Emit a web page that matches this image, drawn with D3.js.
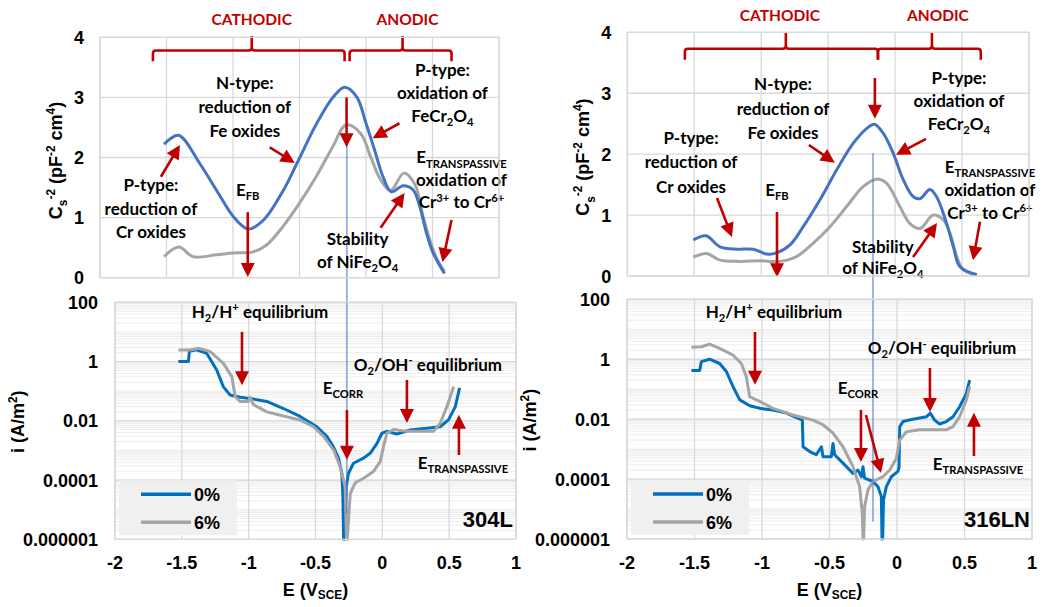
<!DOCTYPE html>
<html>
<head>
<meta charset="utf-8">
<script src="https://cdn.jsdelivr.net/npm/d3@7"></script>
<style>
  body { margin: 0; background: #fff; }
  svg text { font-family: "Liberation Sans", Arial, sans-serif; font-weight: bold; fill: #000; }
  svg text.note { font-family: Lato, "Open Sans", sans-serif; }
</style>
</head>
<body>
<svg id="chart" width="1042" height="607"></svg>
<script>
(function () {

  "use strict";

  // ---- axis ticks ----
  var eTicks = [-2, -1.5, -1, -0.5, 0, 0.5, 1];
  var eTickLabels = ["-2", "-1.5", "-1", "-0.5", "0", "0.5", "1"];
  var capTicks = [0, 1, 2, 3, 4];
  var curTicks = [1e-6, 1e-4, 1e-2, 1, 100];
  var curTickLabels = ["0.000001", "0.0001", "0.01", "1", "100"];
  var seriesNames = ["0%", "6%"];

  // ---- Mott-Schottky, [E, Cs^-2] ----
  var ms304L_0 = [[-1.518, 2.22], [-1.41, 2.37], [-1.25, 1.90], [-1.125, 1.46], [-0.995, 1.01], [-0.885, 0.81],
    [-0.77, 0.96], [-0.62, 1.46], [-0.52, 1.90], [-0.37, 2.57], [-0.245, 3.01], [-0.16, 3.17], [-0.07, 3.01],
    [0.0, 2.57], [0.065, 2.12], [0.128, 1.68], [0.19, 1.43], [0.28, 1.53], [0.355, 1.46], [0.405, 1.18],
    [0.455, 0.74], [0.505, 0.41], [0.59, 0.07]];
  var ms304L_6 = [[-1.518, 0.35], [-1.407, 0.51], [-1.3, 0.35], [-1.125, 0.38], [-1.0, 0.41], [-0.85, 0.43],
    [-0.75, 0.54], [-0.625, 0.85], [-0.5, 1.24], [-0.375, 1.68], [-0.25, 2.18], [-0.15, 2.54], [-0.04, 2.40],
    [0.035, 2.01], [0.11, 1.63], [0.185, 1.45], [0.285, 1.74], [0.37, 1.54], [0.43, 1.01], [0.48, 0.63],
    [0.53, 0.33], [0.59, 0.10]];
  var ms316LN_0 = [[-1.507, 0.59], [-1.412, 0.66], [-1.308, 0.48], [-1.183, 0.44], [-1.059, 0.44], [-0.959, 0.36],
    [-0.885, 0.38], [-0.785, 0.51], [-0.686, 0.81], [-0.561, 1.25], [-0.437, 1.74], [-0.312, 2.18], [-0.213, 2.42],
    [-0.155, 2.49], [-0.088, 2.34], [-0.013, 2.01], [0.061, 1.58], [0.136, 1.30], [0.186, 1.27], [0.26, 1.42],
    [0.31, 1.30], [0.385, 0.86], [0.435, 0.48], [0.485, 0.15], [0.61, 0.02]];
  var ms316LN_6 = [[-1.507, 0.31], [-1.408, 0.37], [-1.308, 0.26], [-1.159, 0.24], [-1.009, 0.25], [-0.86, 0.24],
    [-0.735, 0.32], [-0.611, 0.54], [-0.486, 0.81], [-0.362, 1.14], [-0.237, 1.47], [-0.138, 1.59], [-0.063, 1.52],
    [0.036, 1.14], [0.111, 0.86], [0.186, 0.78], [0.285, 1.0], [0.36, 0.92], [0.41, 0.70], [0.46, 0.32],
    [0.51, 0.10], [0.61, 0.02]];

  // ---- polarisation, [E, i (A/m2)] ----
  var pol304L_0 = [[-1.526, 1.0], [-1.451, 1.0], [-1.443, 2.2], [-1.39, 2.5], [-1.314, 1.9], [-1.239, 0.52],
    [-1.189, 0.14], [-1.139, 0.074], [-1.064, 0.062], [-0.964, 0.054], [-0.864, 0.045], [-0.74, 0.026],
    [-0.615, 0.014], [-0.49, 0.0063], [-0.415, 0.003], [-0.365, 0.0013], [-0.328, 0.00055], [-0.303, 0.00017],
    [-0.295, 0.000028], [-0.29, 0.000001], [-0.285, 0.000001], [-0.27, 0.00006], [-0.253, 0.00017],
    [-0.216, 0.00037], [-0.141, 0.00055], [-0.091, 0.0008], [-0.041, 0.0017], [-0.003, 0.0038], [0.034, 0.0044],
    [0.109, 0.0036], [0.209, 0.0049], [0.333, 0.0056], [0.433, 0.0063], [0.496, 0.011], [0.546, 0.03], [0.578, 0.13]];
  var pol304L_6 = [[-1.526, 2.45], [-1.44, 2.45], [-1.376, 2.8], [-1.289, 2.2], [-1.189, 0.87], [-1.126, 0.31],
    [-1.101, 0.066], [-1.064, 0.045], [-1.002, 0.045], [-0.989, 0.062], [-0.964, 0.035], [-0.864, 0.02],
    [-0.74, 0.0145], [-0.615, 0.0107], [-0.515, 0.0063], [-0.44, 0.003], [-0.365, 0.00105], [-0.315, 0.00028],
    [-0.278, 0.00006], [-0.268, 0.000001], [-0.262, 0.000001], [-0.253, 0.0000045], [-0.24, 0.000035],
    [-0.203, 0.000081], [-0.141, 0.000115], [-0.066, 0.000195], [-0.016, 0.00042], [0.009, 0.00135],
    [0.034, 0.0038], [0.084, 0.0051], [0.184, 0.0044], [0.333, 0.0044], [0.383, 0.0044], [0.433, 0.0083],
    [0.483, 0.03], [0.533, 0.14]];
  var pol316LN_0 = [[-1.523, 0.42], [-1.462, 0.42], [-1.449, 0.83], [-1.388, 1.0], [-1.314, 0.72], [-1.264, 0.39],
    [-1.215, 0.123], [-1.165, 0.044], [-1.091, 0.028], [-1.017, 0.023], [-0.919, 0.02], [-0.82, 0.016],
    [-0.701, 0.0093], [-0.696, 0.0012], [-0.647, 0.00083], [-0.598, 0.00065], [-0.56, 0.0012], [-0.548, 0.00056],
    [-0.486, 0.00056], [-0.474, 0.00155], [-0.462, 0.00065], [-0.4, 0.00034], [-0.326, 0.000155], [-0.289, 0.0002],
    [-0.264, 0.00012], [-0.252, 0.00026], [-0.24, 0.000107], [-0.178, 0.000083], [-0.141, 0.000056],
    [-0.116, 0.000026], [-0.111, 0.000001], [-0.106, 0.000001], [-0.1, 0.00002], [-0.079, 0.000056],
    [-0.042, 0.00012], [0.007, 0.00018], [0.015, 0.00025], [0.02, 0.0056], [0.044, 0.0083], [0.119, 0.01],
    [0.217, 0.012], [0.247, 0.0158], [0.279, 0.0093], [0.316, 0.0069], [0.365, 0.0083], [0.415, 0.012],
    [0.464, 0.026], [0.514, 0.072], [0.538, 0.2]];
  var pol316LN_6 = [[-1.523, 2.5], [-1.449, 2.6], [-1.388, 3.2], [-1.314, 2.3], [-1.215, 1.38], [-1.153, 0.72],
    [-1.116, 0.26], [-1.091, 0.056], [-1.017, 0.039], [-0.919, 0.023], [-0.77, 0.0138], [-0.622, 0.0093],
    [-0.548, 0.0065], [-0.474, 0.0034], [-0.4, 0.0012], [-0.326, 0.00026], [-0.277, 0.000056], [-0.257, 0.0000072],
    [-0.252, 0.000001], [-0.247, 0.000001], [-0.24, 0.000012], [-0.215, 0.000044], [-0.178, 0.000083],
    [-0.104, 0.00012], [-0.054, 0.0002], [-0.005, 0.00049], [0.02, 0.002], [0.069, 0.0038], [0.168, 0.0044],
    [0.365, 0.0044], [0.415, 0.0056], [0.464, 0.012], [0.514, 0.044], [0.538, 0.12]];

  // ---- annotations (data units of each plot) ----
  var topNotes304L = [
    {lines: ["N-type:", "reduction  of", "Fe oxides"], e: -0.911, v: 3.24, step: 24},
    {lines: ["P-type:", "reduction  of", "Cr oxides"], e: -1.617, v: 1.54, step: 23.5},
    {lines: ["E_{FB}"], e: -0.889, v: 1.46},
    {lines: ["P-type:", "oxidation of", "FeCr_{2}O_{4}"], e: 0.575, v: 3.46, step: 23},
    {lines: ["E_{TRANSPASSIVE}", "oxidation  of", "Cr^{3+} to Cr^{6+}"], e: 0.718, v: 2.0, step: 22.5},
    {lines: ["Stability", "of NiFe_{2}O_{4}"], e: -0.063, v: 0.64, step: 23}
  ];
  var topArrows304L = [[-0.724, 2.17, -0.536, 1.91], [-1.542, 1.68, -1.399, 2.21], [-0.889, 1.09, -0.889, 0.01],
    [-0.146, 3.0, -0.146, 2.17], [0.252, 2.57, 0.05, 2.32], [0.643, 0.96, 0.575, 0.26], [0.11, 0.83, 0.29, 1.41]];
  var botNotes304L = [
    {lines: ["H_{2}/H^{+} equilibrium"], e: -0.915, i: 47},
    {lines: ["E_{CORR}"], e: -0.295, i: 0.13},
    {lines: ["O_{2}/OH^{-} equilibrium"], e: 0.341, i: 0.76},
    {lines: ["E_{TRANSPASSIVE}"], e: 0.603, i: 0.00038}
  ];
  var botArrows304L = [[-1.05, 10, -1.05, 0.16], [-0.265, 0.023, -0.265, 0.00048],
    [0.184, 0.24, 0.184, 0.0085], [0.573, 0.0007, 0.573, 0.016]];

  var topNotes316LN = [
    {lines: ["N-type:", "reduction  of", "Fe oxides"], e: -0.837, v: 3.15, step: 24.5},
    {lines: ["P-type:", "reduction  of", "Cr oxides"], e: -1.524, v: 2.27, step: 24.5},
    {lines: ["E_{FB}"], e: -0.882, v: 1.41},
    {lines: ["P-type:", "oxidation of", "FeCr_{2}O_{4}"], e: 0.477, v: 3.25, step: 23},
    {lines: ["E_{TRANSPASSIVE}", "oxidation  of", "Cr^{3+} to Cr^{6+}"], e: 0.708, v: 1.79, step: 23},
    {lines: ["Stability", "of NiFe_{2}O_{4}"], e: -0.091, v: 0.48, step: 21}
  ];
  var topArrows316LN = [[-0.644, 2.15, -0.45, 1.86], [-1.33, 1.28, -1.218, 0.64], [-0.882, 1.05, -0.882, -0.02],
    [-0.151, 3.25, -0.151, 2.58], [0.231, 2.25, 0.007, 1.99], [0.634, 0.89, 0.582, 0.26], [0.134, 0.31, 0.313, 0.87]];
  var botNotes316LN = [
    {lines: ["H_{2}/H^{+} equilibrium"], e: -0.911, i: 38},
    {lines: ["O_{2}/OH^{-} equilibrium"], e: 0.333, i: 2.3},
    {lines: ["E_{CORR}"], e: -0.289, i: 0.11},
    {lines: ["E_{TRANSPASSIVE}"], e: 0.6, i: 0.00032}
  ];
  var botArrows316LN = [[-1.052, 8.1, -1.052, 0.14], [0.244, 0.51, 0.244, 0.0174], [-0.267, 0.0204, -0.267, 0.00037],
    [-0.23, 0.0138, -0.119, 0.00016], [0.57, 0.00059, 0.57, 0.0162]];

  var brackets304L = {cath: [-1.602, -0.161, -0.859], anod: [-0.123, 0.643, 0.275], vH: 3.78, vEnd: 3.6, vTop: 4.02,
    labels: [["CATHODIC", -0.859, 4.29], ["ANODIC", 0.312, 4.29]]};
  var brackets316LN = {cath: [-1.57, -0.128, -0.816], anod: [-0.128, 0.64, 0.275], vH: 3.73, vEnd: 3.55, vTop: 4.0,
    labels: [["CATHODIC", -0.86, 4.27], ["ANODIC", 0.32, 4.27]]};

  // E_corr guide line: [E, Cs^-2 at top end, i at bottom end]
  var guide304L = [-0.265, 2.24, 7.6e-6];
  var guide316LN = [-0.178, 2.02, 3.8e-6];
  // sample tag anchor: [E, i]
  var tag304L = [0.977, 2.6e-6];
  var tag316LN = [0.985, 2.5e-6];

  var RED = "#c00000";
  var GRID = "#d9d9d9";
  var NOTE_SIZE = 17;

  var panels = [
    {name: "304L", ms: [ms304L_0, ms304L_6], pol: [pol304L_0, pol304L_6],
      topNotes: topNotes304L, topArrows: topArrows304L, botNotes: botNotes304L, botArrows: botArrows304L,
      brackets: brackets304L, guide: guide304L, tag: tag304L,
      top: {x0: 100, x1: 499, y0: 37.3, y1: 277.7}, bot: {x0: 115, x1: 516, y0: 302.3, y1: 539.3}},
    {name: "316LN", ms: [ms316LN_0, ms316LN_6], pol: [pol316LN_0, pol316LN_6],
      topNotes: topNotes316LN, topArrows: topArrows316LN, botNotes: botNotes316LN, botArrows: botArrows316LN,
      brackets: brackets316LN, guide: guide316LN, tag: tag316LN,
      top: {x0: 627.3, x1: 1029, y0: 32.3, y1: 276}, bot: {x0: 627, x1: 1032, y0: 299.3, y1: 539}}
  ];

  var svg = d3.select("#chart");

  panels.forEach(function (p) { drawPanel(p); });

  function drawPanel(p) {
    var g = svg.append("g").attr("class", "panel-" + p.name);
    var t = p.top, b = p.bot;

    var xT = d3.scaleLinear().domain([-2, 1]).range([t.x0, t.x1]);
    var yT = d3.scaleLinear().domain([0, 4]).range([t.y1, t.y0]);
    var xB = d3.scaleLinear().domain([-2, 1]).range([b.x0, b.x1]);
    var yB = d3.scaleLog().domain([1e-6, 100]).range([b.y1, b.y0]).clamp(true);

    // --- top plot: grid ---
    var gt = g.append("g");
    gt.selectAll(".vg").data(eTicks).enter().append("line")
      .attr("x1", function (d) { return xT(d); }).attr("x2", function (d) { return xT(d); })
      .attr("y1", t.y0).attr("y2", t.y1).attr("stroke", GRID).attr("stroke-width", 1.3);
    gt.selectAll(".hg").data(capTicks).enter().append("line")
      .attr("x1", t.x0).attr("x2", t.x1)
      .attr("y1", function (d) { return yT(d); }).attr("y2", function (d) { return yT(d); })
      .attr("stroke", GRID).attr("stroke-width", 1.3);
    gt.selectAll(".yl").data(capTicks).enter().append("text")
      .attr("x", t.x0 - 16).attr("y", function (d) { return yT(d) + 6.5; })
      .attr("text-anchor", "end").attr("font-size", 18).text(function (d) { return d; });

    // --- bottom plot: grid ---
    var gb = g.append("g");
    var minor = [];
    for (var n = -6; n < 2; n++) {
      for (var k = 2; k <= 10; k++) minor.push(k * Math.pow(10, n));
    }
    gb.selectAll(".mg").data(minor).enter().append("line")
      .attr("x1", b.x0).attr("x2", b.x1)
      .attr("y1", function (d) { return yB(d); }).attr("y2", function (d) { return yB(d); })
      .attr("stroke", "#ececec").attr("stroke-width", 1);
    gb.selectAll(".vg").data(eTicks).enter().append("line")
      .attr("x1", function (d) { return xB(d); }).attr("x2", function (d) { return xB(d); })
      .attr("y1", b.y0).attr("y2", b.y1).attr("stroke", GRID).attr("stroke-width", 1.3);
    gb.selectAll(".hg").data(curTicks).enter().append("line")
      .attr("x1", b.x0).attr("x2", b.x1)
      .attr("y1", function (d) { return yB(d); }).attr("y2", function (d) { return yB(d); })
      .attr("stroke", GRID).attr("stroke-width", 1.3);
    gb.selectAll(".yl").data(curTicks).enter().append("text")
      .attr("x", b.x0 - 17).attr("y", function (d) { return yB(d) + 6.5; })
      .attr("text-anchor", "end").attr("font-size", 18)
      .text(function (d, i) { return curTickLabels[i]; });
    gb.selectAll(".xl").data(eTicks).enter().append("text")
      .attr("x", function (d) { return xB(d); }).attr("y", b.y1 + 30)
      .attr("text-anchor", "middle").attr("font-size", 18)
      .text(function (d, i) { return eTickLabels[i]; });

    // axis titles
    var yc = (t.y0 + t.y1) / 2 + 3;
    rich(g.append("text").attr("text-anchor", "middle").attr("font-size", 18)
      .attr("transform", "translate(" + (t.x0 - 38) + "," + yc + ") rotate(-90)"), "C_{s}^{-2} (pF^{-2} cm^{4})", 18);
    var ybc = (b.y0 + b.y1) / 2 + 1;
    rich(g.append("text").attr("text-anchor", "middle").attr("font-size", 18)
      .attr("transform", "translate(" + (b.x0 - 91) + "," + ybc + ") rotate(-90)"), "i (A/m^{2})", 18);
    rich(g.append("text").attr("text-anchor", "middle").attr("font-size", 18)
      .attr("x", (b.x0 + b.x1) / 2).attr("y", b.y1 + 57), "E (V_{SCE})", 18, 0.14);

    // --- curves ---
    var colorsTop = ["#4472c4", "#a5a5a5"];
    var colorsBot = ["#0070c0", "#a5a5a5"];
    var lineT = d3.line().curve(d3.curveCatmullRom.alpha(0.5))
      .x(function (d) { return xT(d[0]); }).y(function (d) { return yT(d[1]); });
    var lineB = d3.line()
      .x(function (d) { return xB(d[0]); }).y(function (d) { return yB(d[1]); });

    [1, 0].forEach(function (s) {
      gt.append("path").attr("d", lineT(p.ms[s])).attr("fill", "none")
        .attr("stroke", colorsTop[s]).attr("stroke-width", 3).attr("stroke-linejoin", "round");
    });
    [0, 1].forEach(function (s) {
      gb.append("path").attr("d", lineB(p.pol[s])).attr("fill", "none")
        .attr("stroke", colorsBot[s]).attr("stroke-width", 3).attr("stroke-linejoin", "round");
    });

    // legend
    var lg = gb.append("g");
    lg.append("rect").attr("x", b.x0 + 4).attr("y", b.y1 - 59).attr("width", 118).attr("height", 55)
      .attr("fill", "#f0f0f0");
    seriesNames.forEach(function (name, s) {
      var ly = b.y1 - 45 + s * 28;
      lg.append("line").attr("x1", b.x0 + 26).attr("x2", b.x0 + 76).attr("y1", ly).attr("y2", ly)
        .attr("stroke", colorsBot[s]).attr("stroke-width", 3.5);
      lg.append("text").attr("x", b.x0 + 79).attr("y", ly + 7).attr("font-size", 18).text(name);
    });

    // sample tag
    g.append("text").attr("x", xB(p.tag[0])).attr("y", yB(p.tag[1]))
      .attr("text-anchor", "end").attr("font-size", 22).text(p.name);

    // E_corr guide line across both plots
    g.append("line").attr("x1", xB(p.guide[0])).attr("x2", xB(p.guide[0]))
      .attr("y1", yT(p.guide[1])).attr("y2", yB(p.guide[2]))
      .attr("stroke", "#4472c4").attr("stroke-width", 1);

    // --- annotations ---
    var ga = g.append("g");
    p.topNotes.forEach(function (nt) {
      nt.lines.forEach(function (ln, i) {
        rich(ga.append("text").attr("class", "note").attr("text-anchor", "middle").attr("font-size", NOTE_SIZE)
          .attr("x", xT(nt.e)).attr("y", yT(nt.v) + i * (nt.step || 0) + NOTE_SIZE * 0.35), ln, NOTE_SIZE, 0.24);
      });
    });
    p.botNotes.forEach(function (nt) {
      nt.lines.forEach(function (ln) {
        rich(ga.append("text").attr("class", "note").attr("text-anchor", "middle").attr("font-size", NOTE_SIZE)
          .attr("x", xB(nt.e)).attr("y", yB(nt.i) + NOTE_SIZE * 0.35), ln, NOTE_SIZE, 0.24);
      });
    });
    p.topArrows.forEach(function (a) {
      arrow(ga, xT(a[0]), yT(a[1]), xT(a[2]), yT(a[3]));
    });
    p.botArrows.forEach(function (a) {
      arrow(ga, xB(a[0]), yB(a[1]), xB(a[2]), yB(a[3]));
    });

    // brackets
    var br = p.brackets;
    [br.cath, br.anod].forEach(function (c) {
      bracket(ga, xT(c[0]), xT(c[1]), xT(c[2]), yT(br.vH), yT(br.vEnd), yT(br.vTop));
    });
    br.labels.forEach(function (l) {
      ga.append("text").attr("class", "note").attr("text-anchor", "middle").attr("font-size", 15.5)
        .attr("x", xT(l[1])).attr("y", yT(l[2]) + 5.5).style("fill", RED).text(l[0]);
    });

    // plot borders
    g.append("rect").attr("x", t.x0).attr("y", t.y0).attr("width", t.x1 - t.x0).attr("height", t.y1 - t.y0)
      .attr("fill", "none").attr("stroke", GRID).attr("stroke-width", 1.3);
    g.append("rect").attr("x", b.x0).attr("y", b.y0).attr("width", b.x1 - b.x0).attr("height", b.y1 - b.y0)
      .attr("fill", "none").attr("stroke", GRID).attr("stroke-width", 1.3);
  }

  // text with _{sub} and ^{sup} parts
  function rich(sel, str, size, subShift) {
    var re = /([_^])\{([^}]*)\}|([^_^]+)/g, m, shift = 0;
    var sub = subShift === undefined ? 0.3 : subShift;
    while ((m = re.exec(str)) !== null) {
      var kind = m[1];
      var txt = kind ? m[2] : m[3];
      var target = kind === "_" ? size * sub : (kind === "^" ? -size * 0.4 : 0);
      var ts = sel.append("tspan").text(txt);
      if (target - shift !== 0) ts.attr("dy", target - shift);
      if (kind) ts.attr("font-size", size * 0.66);
      shift = target;
    }
    return sel;
  }

  function arrow(g, x1, y1, x2, y2) {
    var dx = x2 - x1, dy = y2 - y1, L = Math.sqrt(dx * dx + dy * dy);
    var ux = dx / L, uy = dy / L, hl = 14, hw = 7;
    var bx = x2 - ux * hl, by = y2 - uy * hl;
    g.append("line").attr("x1", x1).attr("y1", y1).attr("x2", bx + ux).attr("y2", by + uy)
      .attr("stroke", RED).attr("stroke-width", 2.6);
    g.append("path")
      .attr("d", "M" + x2 + "," + y2 + "L" + (bx - uy * hw) + "," + (by + ux * hw) +
        "L" + (bx + uy * hw) + "," + (by - ux * hw) + "Z")
      .attr("fill", RED);
  }

  function bracket(g, x1, x2, xm, yH, yEnd, yTop) {
    var r = 3;
    var d = "M" + x1 + "," + yEnd + "L" + x1 + "," + (yH + r) + "Q" + x1 + "," + yH + " " + (x1 + r) + "," + yH +
      "L" + (xm - r) + "," + yH + "Q" + xm + "," + yH + " " + xm + "," + (yH - r) + "L" + xm + "," + yTop +
      "M" + xm + "," + (yH - r) + "Q" + xm + "," + yH + " " + (xm + r) + "," + yH +
      "L" + (x2 - r) + "," + yH + "Q" + x2 + "," + yH + " " + x2 + "," + (yH + r) + "L" + x2 + "," + yEnd;
    g.append("path").attr("d", d).attr("fill", "none").attr("stroke", RED).attr("stroke-width", 2.6);
  }

}());
</script>
</body>
</html>
